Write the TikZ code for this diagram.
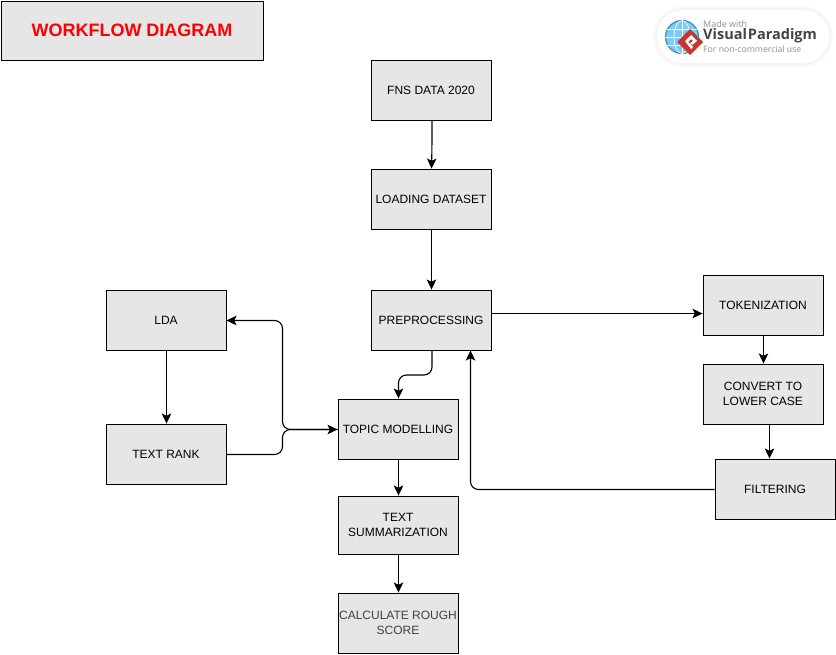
\documentclass[tikz,border=0pt]{standalone}
\usepackage{fontspec}
\setmainfont{Liberation Sans}
\newfontfamily\badgefont{Open Sans}
\usetikzlibrary{arrows.meta,calc}
\definecolor{boxfill}{HTML}{E6E6E6}
\definecolor{vpgrey}{HTML}{444444}
\definecolor{vplight}{HTML}{8F8F8F}
\definecolor{vpblue}{HTML}{7CCBF2}
\definecolor{vpring}{HTML}{3C8FC4}
\definecolor{vpred}{HTML}{C8352E}
\newcommand{\dropline}[1]{\raisebox{-1pt}[9pt][3pt]{#1}}
\tikzset{
  x=1pt,y=-1pt,
  flowbox/.style={draw=black,fill=boxfill,line width=0.9pt,minimum width=120pt,minimum height=60pt,inner sep=1pt,align=center,font=\fontsize{12}{15}\selectfont,text=black},
  flow/.style={draw=black,line width=1.1pt,-{Stealth[length=10pt,width=9.5pt,inset=2.2pt]},rounded corners=8pt},
  badgetext/.style={anchor=west,inner sep=0pt},
  gridline/.style={draw=white,line width=0.7pt},
  halo/.style={rounded corners=26pt,inner sep=0pt,minimum height=53pt},
}
\begin{document}
\begin{tikzpicture}
\useasboundingbox (0,0) rectangle (836,654);
\node[flowbox,minimum width=262pt,minimum height=59pt,font=\bfseries\fontsize{18}{22}\selectfont,text=red] (title) at (132,30.5) {WORKFLOW DIAGRAM};
\node[flowbox] (fns) at (431,90) {FNS DATA 2020};
\node[flowbox] (load) at (431,199) {LOADING DATASET};
\node[flowbox] (pre) at (431,320) {PREPROCESSING};
\node[flowbox] (tok) at (763,305) {TOKENIZATION};
\node[flowbox] (low) at (763,394) {\dropline{CONVERT TO}\\\dropline{LOWER CASE}};
\node[flowbox] (fil) at (775,489) {FILTERING};
\node[flowbox] (lda) at (166,320) {LDA};
\node[flowbox] (rank) at (166,454) {TEXT RANK};
\node[flowbox] (topic) at (398,429) {TOPIC MODELLING};
\node[flowbox,minimum height=58pt] (summ) at (398,525) {\dropline{TEXT}\\\dropline{SUMMARIZATION}};
\node[flowbox,text=black!75] (calc) at (398,623) {\dropline{CALCULATE ROUGH}\\\dropline{SCORE}};

\draw[flow] ([xshift=1pt]fns.south) -- ++(0,24) -- ([xshift=.5pt]load.north);
\draw[flow] ([xshift=.5pt]load.south) -- ([xshift=.5pt]pre.north);
\draw[flow] (pre.east |- 0,313.5) -- (tok.west |- 0,313.5);
\draw[flow] ([xshift=.5pt]tok.south) -- ([xshift=.5pt]tok.south |- low.north);
\draw[flow] ([xshift=6.5pt]low.south) -- ([xshift=-5.5pt]fil.north);
\draw[flow] ([yshift=-.5pt]fil.west) -- (470.5,489.5) -- ([xshift=39.5pt]pre.south);
\draw[flow] ([xshift=1pt]pre.south) -- (432,375) -- (398.5,375) -- ([xshift=.5pt]topic.north);
\draw[flow] ([xshift=.5pt]topic.south) -- ([xshift=.5pt]summ.north);
\draw[flow] ([xshift=.5pt]summ.south) -- ([xshift=.5pt]calc.north);
\draw[flow] ([xshift=.5pt]lda.south) -- ([xshift=.5pt]rank.north);
\draw[flow] ([yshift=-.5pt]topic.west) -- (282.5,429.5) -- (282.5,320.5) -- ([yshift=-.5pt]lda.east);
\draw[flow] ([yshift=-.5pt]rank.east) -- (282.5,454.5) -- (282.5,429.5) -- ([yshift=-.5pt]topic.west);

% Visual Paradigm badge
\node[halo,fill=black!2,minimum width=180pt,minimum height=61pt,rounded corners=30pt] (haloa) at (743,36.5) {};
\node[halo,fill=black!4,minimum width=176pt,minimum height=57pt,rounded corners=28pt] (halob) at (743,36.5) {};
\node[halo,fill=white,minimum width=172pt] (badge) at (743,36.5) {};
\node[circle,draw=vpring,fill=vpblue,line width=1.2pt,minimum size=33pt,inner sep=0pt] (globe) at (682,37) {};
\draw[gridline] (globe.center) ellipse[x radius=8,y radius=16.5];
\draw[gridline] (globe.north) -- (globe.south);
\draw[gridline] (globe.west) -- (globe.east);
\draw[gridline] ($(globe.west)+(2.5,-8)$) -- ($(globe.east)+(-2.5,-8)$);
\draw[gridline] ($(globe.west)+(2.5,8)$) -- ($(globe.east)+(-2.5,8)$);
\coordinate (mark) at (690,42);
\fill[vpred] ($(mark)+(-13,0)$) -- ($(mark)+(0,-13)$) -- ($(mark)+(13,0)$) -- ($(mark)+(0,13)$) -- cycle;
\fill[white] ($(mark)+(-5,-1)$) -- ($(mark)+(1,-7)$) -- ($(mark)+(7,-1)$) -- ($(mark)+(2,3)$) -- ($(mark)+(0,1)$) -- ($(mark)+(3,-1)$) -- ($(mark)+(1,-3)$) -- ($(mark)+(-2,0)$) -- ($(mark)+(3,5)$) -- ($(mark)+(1,7)$) -- cycle;
\node[badgetext,text=vplight,font=\badgefont\fontsize{9}{11}\selectfont] (made) at (703,24) {Made with};
\node[badgetext,text=vpgrey,font=\badgefont\bfseries\fontsize{14.5}{16}\selectfont] (vpname) at (703,36) {Visual\kern1pt Paradigm};
\node[badgetext,text=vplight,font=\badgefont\fontsize{8.7}{10}\selectfont] (usage) at (703,49) {For non-commercial use};
\end{tikzpicture}
\end{document}
